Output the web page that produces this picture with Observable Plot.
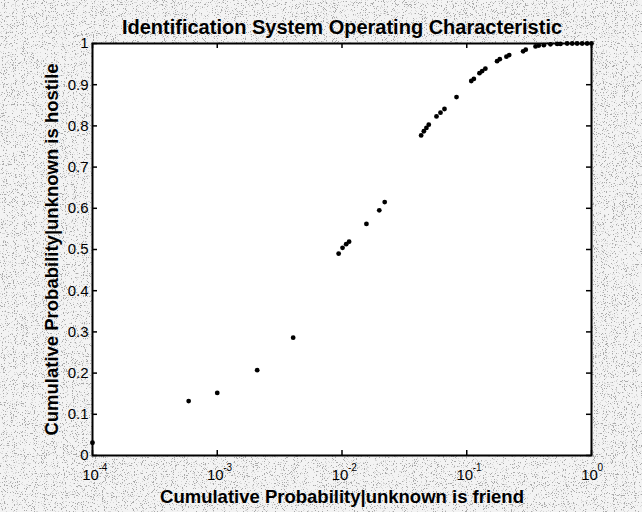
<!DOCTYPE html>
<html>
<head>
<meta charset="utf-8">
<script src="https://cdn.jsdelivr.net/npm/d3@7"></script>
<script src="https://cdn.jsdelivr.net/npm/@observablehq/plot@0.6"></script>
<style>
  html, body { margin: 0; padding: 0; background: #d0d0d0; }
  #chart svg { display: block; }
</style>
</head>
<body>
<div id="chart"></div>
<script>
const titleText = "Identification System Operating Characteristic";
const xLabelText = "Cumulative Probability|unknown is friend";
const yLabelText = "Cumulative Probability|unknown is hostile";

const xTicks = [1e-4, 1e-3, 1e-2, 1e-1, 1];
const xTickExponents = ["-4", "-3", "-2", "-1", "0"];
const yTicks = [0, 0.1, 0.2, 0.3, 0.4, 0.5, 0.6, 0.7, 0.8, 0.9, 1];
const yTickLabels = ["0", "0.1", "0.2", "0.3", "0.4", "0.5", "0.6", "0.7", "0.8", "0.9", "1"];

const friendProb = [0.0001, 0.00059, 0.001, 0.00209, 0.00406, 0.0094, 0.0101, 0.0108, 0.0114,
  0.0157, 0.0199, 0.022, 0.0431, 0.0453, 0.0475, 0.0496, 0.0572, 0.0616, 0.0663, 0.0828,
  0.1087, 0.114, 0.1265, 0.133, 0.141, 0.175, 0.184, 0.208, 0.219, 0.283, 0.297,
  0.356, 0.378, 0.415, 0.469, 0.531, 0.564, 0.638, 0.70, 0.767, 0.841, 0.922, 1.0];
const hostileProb = [0.031, 0.132, 0.152, 0.207, 0.286, 0.490, 0.504, 0.513, 0.519,
  0.562, 0.595, 0.615, 0.777, 0.787, 0.795, 0.803, 0.823, 0.832, 0.841, 0.870,
  0.909, 0.914, 0.928, 0.933, 0.939, 0.957, 0.962, 0.968, 0.972, 0.981, 0.985,
  0.993, 0.995, 0.996, 0.998, 0.999, 0.999, 1.0, 1.0, 1.0, 1.0, 1.0, 1.0];

const points = friendProb.map((f, i) => ({friend: f, hostile: hostileProb[i]}));
const xTickData = xTicks.map((v, i) => ({v, e: xTickExponents[i]}));

const W = 642, H = 512;
const mL = 92, mR = 51, mT = 43, mB = 57;
const plotH = H - mT - mB;
const plotW = W - mL - mR;
const tickLen = 5;

const chart = Plot.plot({
  width: W,
  height: H,
  marginLeft: mL,
  marginRight: mR,
  marginTop: mT,
  marginBottom: mB,
  style: {background: "transparent", fontFamily: "'Liberation Sans', Arial, sans-serif", fontSize: "15px", color: "black"},
  x: {type: "log", domain: [1e-4, 1]},
  y: {domain: [0, 1]},
  marks: [
    Plot.frame({fill: "white", stroke: "none"}),
    // inward ticks on all four sides
    Plot.tickX(xTicks, {x: d => d, insetTop: plotH - tickLen, stroke: "black", strokeWidth: 1.5}),
    Plot.tickX(xTicks, {x: d => d, insetBottom: plotH - tickLen, stroke: "black", strokeWidth: 1.5}),
    Plot.tickY(yTicks, {y: d => d, insetRight: plotW - tickLen, stroke: "black", strokeWidth: 1.5}),
    Plot.tickY(yTicks, {y: d => d, insetLeft: plotW - tickLen, stroke: "black", strokeWidth: 1.5}),
    Plot.axisY({ticks: yTicks, tickSize: 0, tickPadding: 4, tickFormat: d => yTickLabels[yTicks.indexOf(d)], label: null, fontSize: 15}),
    Plot.axisX({ticks: [], label: null}),
    // x tick labels "10" with superscript exponents
    Plot.text(xTickData, {x: "v", text: () => "10", frameAnchor: "bottom", lineAnchor: "middle", dy: 20, dx: -2, fontSize: 15}),
    Plot.text(xTickData, {x: "v", text: "e", frameAnchor: "bottom", lineAnchor: "middle", dy: 12, dx: 6, textAnchor: "start", fontSize: 10}),
    Plot.frame({stroke: "black", strokeWidth: 2}),
    Plot.dot(points, {x: "friend", y: "hostile", r: 2.4, fill: "black", stroke: "none", clip: false}),
    Plot.text([titleText], {frameAnchor: "top", dy: -24, fontSize: 20, fontWeight: "bold"}),
    Plot.text([xLabelText], {frameAnchor: "bottom", lineAnchor: "middle", dy: 42, fontSize: 18.5, fontWeight: "bold"}),
    Plot.text([yLabelText], {frameAnchor: "left", textAnchor: "middle", lineAnchor: "middle", dx: -40, rotate: -90, fontSize: 18.5, fontWeight: "bold"})
  ]
});

// speckled scan-like background behind everything
const svg = d3.select(chart);
const defs = svg.insert("defs", ":first-child");
const filt = defs.append("filter").attr("id", "scan").attr("x", 0).attr("y", 0).attr("width", "100%").attr("height", "100%");
filt.append("feTurbulence").attr("type", "fractalNoise").attr("baseFrequency", 0.9).attr("numOctaves", 2).attr("seed", 7).attr("result", "t");
filt.append("feColorMatrix").attr("in", "t").attr("type", "saturate").attr("values", 0).attr("result", "g");
const ct = filt.append("feComponentTransfer").attr("in", "g");
const table = d3.range(50).map(i => (i < 19 ? 0.4 : i < 21 ? 0.68 : 0.9)).join(" ");
["feFuncR", "feFuncG", "feFuncB"].forEach(f => ct.append(f).attr("type", "discrete").attr("tableValues", table));
ct.append("feFuncA").attr("type", "linear").attr("slope", 0).attr("intercept", 1);
svg.insert("rect", "defs + *").attr("x", 0).attr("y", 0).attr("width", W).attr("height", H).attr("fill", "#ddd").attr("filter", "url(#scan)");

document.getElementById("chart").appendChild(chart);
</script>
</body>
</html>
